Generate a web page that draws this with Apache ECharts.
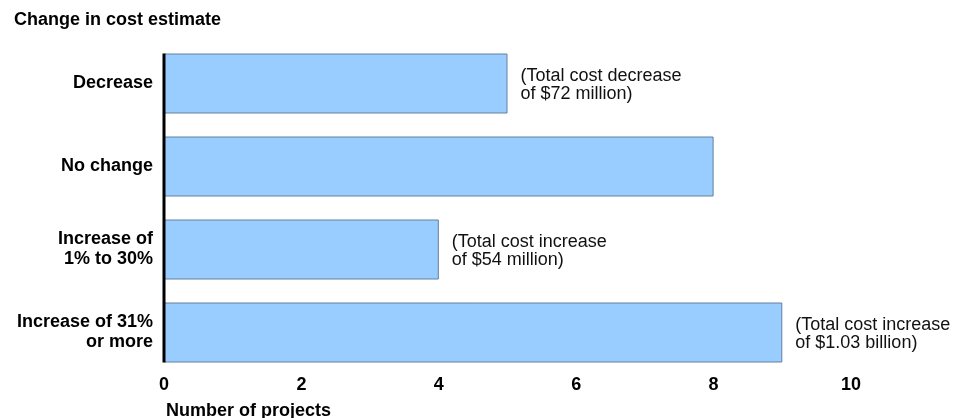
<!DOCTYPE html>
<html>
<head>
<meta charset="utf-8">
<script src="https://cdn.jsdelivr.net/npm/echarts@6/dist/echarts.min.js"></script>
<style>
  html, body { margin: 0; padding: 0; background: #fff; }
  #main { width: 961px; height: 418px; }
</style>
</head>
<body>
<div id="main"></div>
<script>
var categories = ['Decrease', 'No change', 'Increase of\n1% to 30%', 'Increase of 31%\nor more'];
var projects = [5, 8, 4, 9];
var notes = [
  '(Total cost decrease\nof $72 million)',
  '',
  '(Total cost increase\nof $54 million)',
  '(Total cost increase\nof $1.03 billion)'
];
var xTicks = [0, 2, 4, 6, 8, 10];

var FONT = '"Liberation Sans", Arial, sans-serif';
var BAR_H = 60;

var myChart = echarts.init(document.getElementById('main'));

myChart.setOption({
    animation: false,
    title: [{
        text: 'Change in cost estimate',
        left: 9,
        top: 6,
        textStyle: { fontFamily: FONT, fontSize: 18, fontWeight: 'bold', color: '#000' }
    }, {
        text: 'Number of projects',
        left: 161,
        top: 397,
        textStyle: { fontFamily: FONT, fontSize: 18, fontWeight: 'bold', color: '#000' }
    }],
    grid: {
        left: 164,
        right: 110,
        top: 42,
        height: 332
    },
    xAxis: {
        type: 'value',
        min: xTicks[0],
        max: xTicks[xTicks.length - 1],
        interval: 2,
        axisLine: { show: false },
        axisTick: { show: false },
        splitLine: { show: false },
        axisLabel: {
            margin: 2,
            fontFamily: FONT,
            fontSize: 18,
            fontWeight: 'bold',
            color: '#000'
        }
    },
    yAxis: {
        type: 'category',
        inverse: true,
        data: categories,
        axisLine: { show: false },
        axisTick: { show: false },
        axisLabel: {
            margin: 11,
            fontFamily: FONT,
            fontSize: 18,
            fontWeight: 'bold',
            lineHeight: 20,
            color: '#000',
            align: 'right'
        }
    },
    series: [{
        type: 'bar',
        data: projects,
        barWidth: BAR_H,
        itemStyle: {
            color: '#99ccff',
            borderColor: '#62809e',
            borderWidth: 1
        },
        label: {
            show: true,
            position: 'right',
            distance: 13,
            offset: [0, 2],
            align: 'left',
            fontFamily: FONT,
            fontSize: 18,
            lineHeight: 18,
            color: '#111',
            formatter: function (p) { return notes[p.dataIndex]; }
        }
    }, {
        // vertical axis line spanning the bars
        type: 'custom',
        silent: true,
        z: 5,
        data: [[0, 0, categories.length - 1]],
        renderItem: function (params, api) {
            var top = api.coord([api.value(0), api.value(1)]);
            var bottom = api.coord([api.value(0), api.value(2)]);
            return {
                type: 'line',
                shape: { x1: top[0], y1: top[1] - BAR_H / 2, x2: bottom[0], y2: bottom[1] + BAR_H / 2 },
                style: { stroke: '#000', lineWidth: 3 }
            };
        }
    }]
});
</script>
</body>
</html>
